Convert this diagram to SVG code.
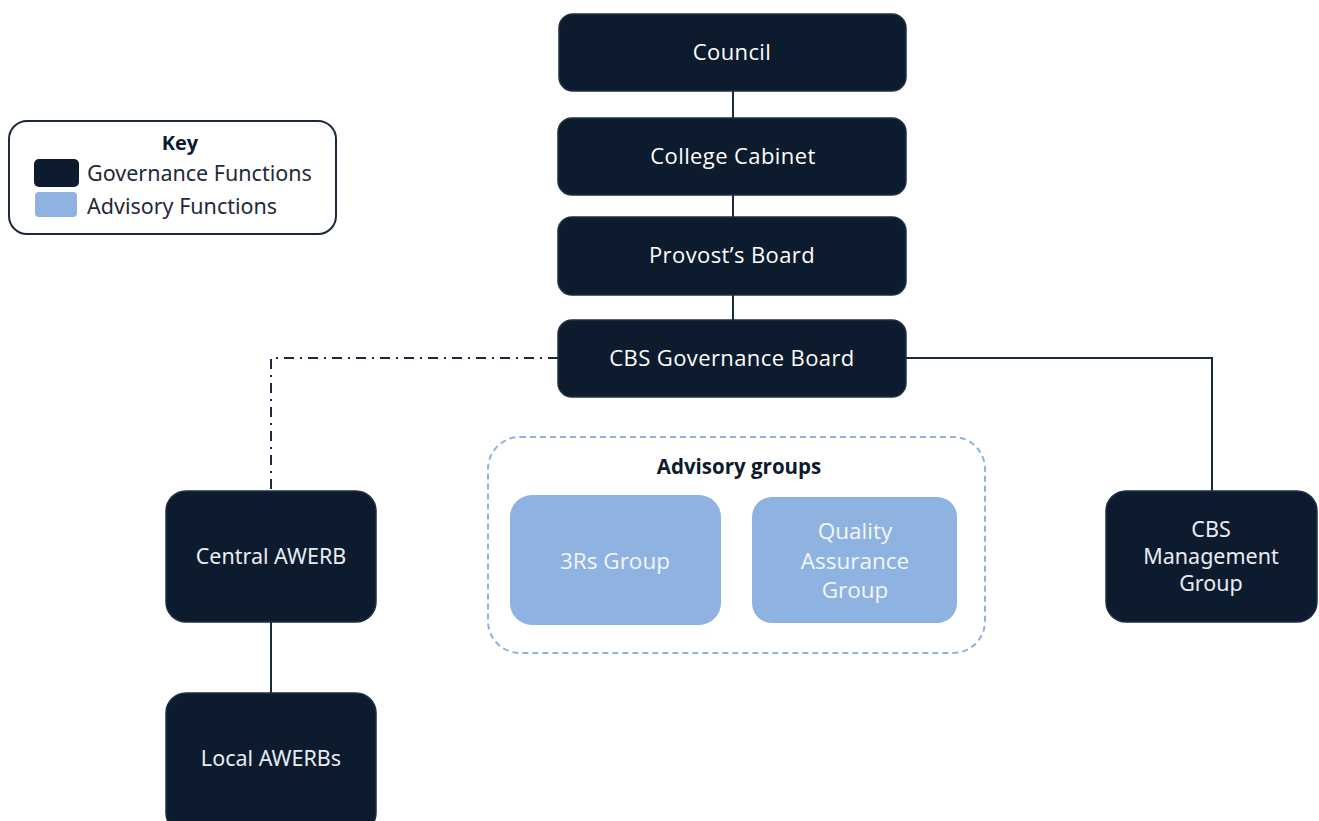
<svg xmlns="http://www.w3.org/2000/svg" width="1319" height="821" viewBox="0 0 1319 821">
  <style>
    .gov { fill: #0C1B2E; stroke: #1E2F45; stroke-width: 1.5; }
    .adv { fill: #8EB3E1; }
    .lbl { font-family: "Open Sans", "Noto Sans", sans-serif; font-size: 22px; letter-spacing: 0.4px; font-weight: 500; fill: #FFFFFF; text-anchor: middle; }
    .lbl2 { font-family: "Noto Sans", "Open Sans", sans-serif; font-size: 21.5px; fill: #E8ECF2; text-anchor: middle; }
    .advlbl { font-family: "Open Sans", "Noto Sans", sans-serif; font-size: 22.5px; fill: #F2F6FB; text-anchor: middle; }
    .keytxt { font-family: "Noto Sans", "Open Sans", sans-serif; font-size: 21.5px; fill: #1E2A3A; }
    .conn { fill: none; stroke: #1A2940; stroke-width: 2; }
  </style>

  <rect width="1319" height="821" fill="#FFFFFF"/>

  <!-- Legend -->
  <g id="key">
    <rect x="9" y="121" width="327" height="113" rx="18" fill="#FFFFFF" stroke="#1A2940" stroke-width="2"/>
    <text x="180" y="150" font-family="Open Sans, sans-serif" font-size="20" font-weight="bold" fill="#0C1B2E" text-anchor="middle">Key</text>
    <rect x="34" y="159" width="45" height="28" rx="5" fill="#0C1B2E"/>
    <text class="keytxt" x="87" y="181">Governance Functions</text>
    <rect x="35" y="192" width="42" height="25" rx="4" fill="#8EB3E1"/>
    <text class="keytxt" x="87" y="214">Advisory Functions</text>
  </g>

  <!-- Connectors -->
  <g id="connectors">
    <line class="conn" x1="733" y1="91" x2="733" y2="118"/>
    <line class="conn" x1="733" y1="195" x2="733" y2="217"/>
    <line class="conn" x1="733" y1="295" x2="733" y2="320"/>
    <polyline class="conn" points="558,358 271,358 271,490" stroke-dasharray="10,6,2,6"/>
    <polyline class="conn" points="906,358 1212,358 1212,491"/>
    <line class="conn" x1="271" y1="622" x2="271" y2="693"/>
  </g>

  <!-- Governance chain -->
  <g id="council">
    <rect class="gov" x="559" y="14" width="347" height="77" rx="14"/>
    <text class="lbl" x="732" y="60">Council</text>
  </g>
  <g id="college-cabinet">
    <rect class="gov" x="558" y="118" width="348" height="77" rx="14"/>
    <text class="lbl" x="733" y="164">College Cabinet</text>
  </g>
  <g id="provosts-board">
    <rect class="gov" x="558" y="217" width="348" height="78" rx="14"/>
    <text class="lbl" x="732" y="263">Provost’s Board</text>
  </g>
  <g id="cbs-governance-board">
    <rect class="gov" x="558" y="320" width="348" height="77" rx="14"/>
    <text class="lbl" x="732" y="366">CBS Governance Board</text>
  </g>

  <!-- Advisory groups -->
  <g id="advisory-groups">
    <rect x="488" y="437" width="497" height="216" rx="32" fill="none" stroke="#8EB3E1" stroke-width="2" stroke-dasharray="6,4"/>
    <text x="739" y="474" font-family="Open Sans, sans-serif" font-size="20.5" font-weight="bold" fill="#0C1B2E" text-anchor="middle">Advisory groups</text>
  </g>
  <g id="three-rs-group">
    <rect class="adv" x="510" y="495" width="211" height="130" rx="22"/>
    <text class="advlbl" x="615" y="569">3Rs Group</text>
  </g>
  <g id="quality-assurance-group">
    <rect class="adv" x="752" y="497" width="205" height="126" rx="20"/>
    <text class="advlbl" x="855" y="539">Quality</text>
    <text class="advlbl" x="855" y="569">Assurance</text>
    <text class="advlbl" x="855" y="598">Group</text>
  </g>

  <!-- Ethical review boards -->
  <g id="central-awerb">
    <rect class="gov" x="166" y="491" width="210" height="131" rx="20"/>
    <text class="lbl2" x="271" y="564">Central AWERB</text>
  </g>
  <g id="local-awerbs">
    <rect class="gov" x="166" y="693" width="210" height="140" rx="20"/>
    <text class="lbl2" x="271" y="766">Local AWERBs</text>
  </g>

  <!-- Management -->
  <g id="cbs-management-group">
    <rect class="gov" x="1106" y="491" width="211" height="131" rx="20"/>
    <text class="lbl2" x="1211" y="537">CBS</text>
    <text class="lbl2" x="1211" y="564">Management</text>
    <text class="lbl2" x="1211" y="591">Group</text>
  </g>
</svg>
